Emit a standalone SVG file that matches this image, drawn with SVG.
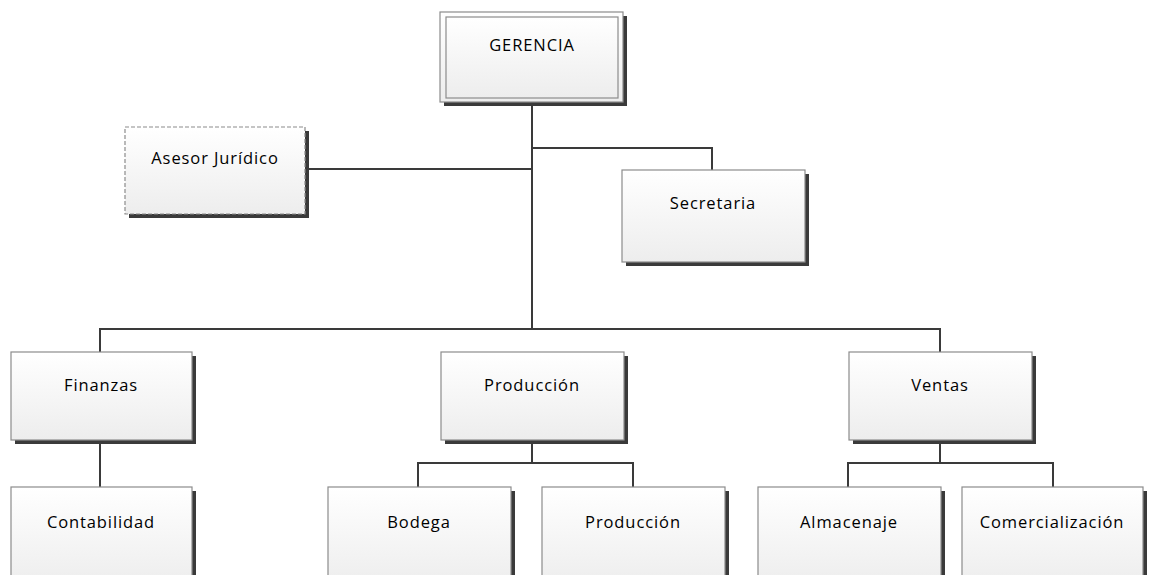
<svg xmlns="http://www.w3.org/2000/svg" width="1149" height="575" viewBox="0 0 1149 575">
<defs>
<linearGradient id="g" x1="0" y1="0" x2="0" y2="1">
<stop offset="0" stop-color="#ffffff"/>
<stop offset="1" stop-color="#ededed"/>
</linearGradient>
</defs>
<style>
.box{fill:url(#g);stroke:#8c8c8c;stroke-width:1.2}
.sh{fill:#3a3a3a}
.dash{stroke-dasharray:4 2}
.lbl{font-family:"Open Sans","Liberation Sans",sans-serif;font-size:16.5px;letter-spacing:0.9px;fill:#000;text-anchor:middle}
.con{fill:none;stroke:#3a3a3a;stroke-width:2}
</style>
<rect width="1149" height="575" fill="#fff"/>
<g id="connectors">
<path class="con" d="M532,102 V329"/>
<path class="con" d="M305,169 H532"/>
<path class="con" d="M532,148 H712 V170"/>
<path class="con" d="M100,352 V329 H940 V352"/>
<path class="con" d="M100,440 V487"/>
<path class="con" d="M532,440 V463 M418,487 V463 H633 V487"/>
<path class="con" d="M940,440 V463 M848,487 V463 H1053 V487"/>
</g>
<g id="gerencia">
<rect class="sh" x="444" y="16" width="183" height="90"/>
<rect class="box" x="440" y="12" width="183" height="90"/>
<rect class="box" x="446" y="17" width="172" height="81"/>
<text class="lbl" x="532" y="51">GERENCIA</text>
</g>
<g id="asesor">
<rect class="sh" x="129" y="131" width="180" height="87"/>
<rect class="box dash" x="125" y="127" width="180" height="87"/>
<text class="lbl" x="215" y="164">Asesor Jurídico</text>
</g>
<g id="secretaria">
<rect class="sh" x="626" y="174" width="183" height="92"/>
<rect class="box" x="622" y="170" width="183" height="92"/>
<text class="lbl" x="713" y="209">Secretaria</text>
</g>
<g id="finanzas">
<rect class="sh" x="15" y="356" width="181" height="88"/>
<rect class="box" x="11" y="352" width="181" height="88"/>
<text class="lbl" x="101" y="391">Finanzas</text>
</g>
<g id="produccion">
<rect class="sh" x="445" y="356" width="183" height="88"/>
<rect class="box" x="441" y="352" width="183" height="88"/>
<text class="lbl" x="532" y="391">Producción</text>
</g>
<g id="ventas">
<rect class="sh" x="853" y="356" width="183" height="88"/>
<rect class="box" x="849" y="352" width="183" height="88"/>
<text class="lbl" x="940" y="391">Ventas</text>
</g>
<g id="contabilidad">
<rect class="sh" x="15" y="491" width="181" height="100"/>
<rect class="box" x="11" y="487" width="181" height="100"/>
<text class="lbl" x="101" y="528">Contabilidad</text>
</g>
<g id="bodega">
<rect class="sh" x="332" y="491" width="183" height="100"/>
<rect class="box" x="328" y="487" width="183" height="100"/>
<text class="lbl" x="419" y="528">Bodega</text>
</g>
<g id="produccion2">
<rect class="sh" x="546" y="491" width="183" height="100"/>
<rect class="box" x="542" y="487" width="183" height="100"/>
<text class="lbl" x="633" y="528">Producción</text>
</g>
<g id="almacenaje">
<rect class="sh" x="762" y="491" width="183" height="100"/>
<rect class="box" x="758" y="487" width="183" height="100"/>
<text class="lbl" x="849" y="528">Almacenaje</text>
</g>
<g id="comercializacion">
<rect class="sh" x="966" y="491" width="181" height="100"/>
<rect class="box" x="962" y="487" width="181" height="100"/>
<text class="lbl" x="1052" y="528">Comercialización</text>
</g>
</svg>
